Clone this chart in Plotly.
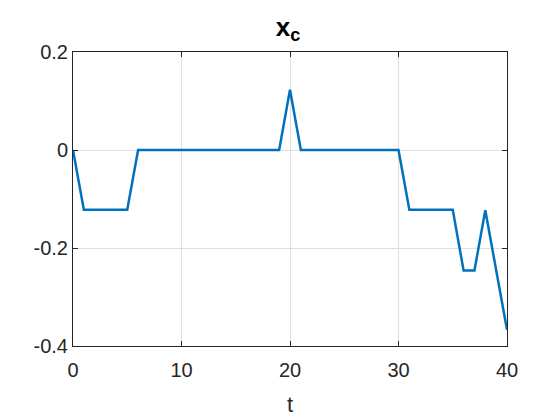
import plotly.graph_objects as go

# samples of x_c over t
t = [0, 1, 5, 6, 19, 20, 21, 30, 31, 35, 36, 37, 38, 40]
xc = [0, -0.122, -0.122, 0, 0, 0.123, 0, 0, -0.122, -0.122, -0.246, -0.246, -0.123, -0.367]

x_ticks = [0, 10, 20, 30, 40]
y_ticks = [-0.4, -0.2, 0, 0.2]
y_labels = ["-0.4", "-0.2", "0", "0.2"]

fig = go.Figure(go.Scatter(x=t, y=xc, mode="lines",
                           line=dict(color="#0072BD", width=2.5)))

axis_style = dict(showline=True, linecolor="#262626", linewidth=1, mirror="ticks",
                  ticks="inside", ticklen=5, tickcolor="#262626",
                  showgrid=True, gridcolor="#DFDFDF", gridwidth=1,
                  zeroline=False, tickfont=dict(size=20, color="#262626"))

fig.update_layout(
    width=560, height=420,
    margin=dict(l=65, r=61, t=44, b=82),
    paper_bgcolor="white", plot_bgcolor="white",
    font=dict(family="Liberation Sans, Arial, sans-serif", color="#262626"),
    showlegend=False,
    title=dict(text="<b>x<sub>c</sub></b>", x=0.5, xanchor="center",
               y=0.955, yanchor="middle", font=dict(size=26, color="black")),
    xaxis=dict(range=[0, 40], tickvals=x_ticks, ticklabelstandoff=6,
               title=dict(text="t", font=dict(size=22), standoff=16), **axis_style),
    yaxis=dict(range=[-0.4, 0.2], tickvals=y_ticks, ticktext=y_labels, **axis_style),
)

fig.write_html("out.html")
